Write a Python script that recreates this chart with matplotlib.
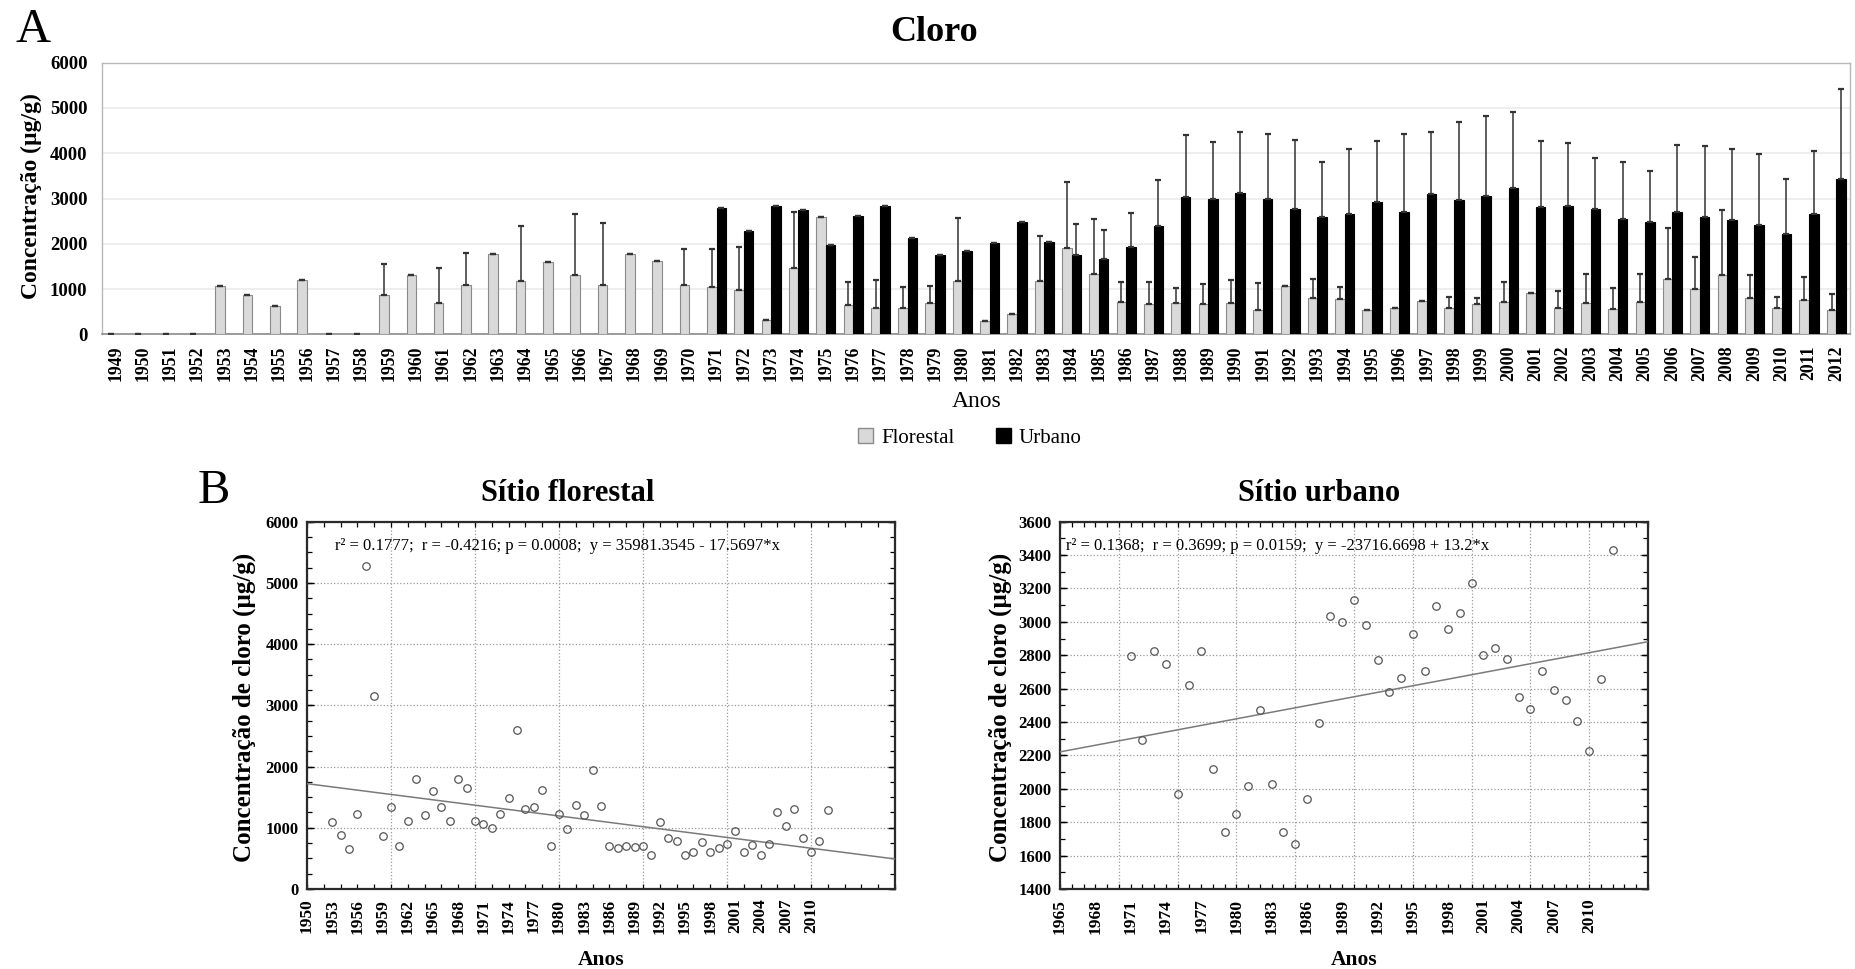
import numpy as np
import matplotlib
matplotlib.use("Agg")
import matplotlib.pyplot as plt
from matplotlib.ticker import MultipleLocator
from matplotlib.patches import Patch

plt.rcParams['font.family'] = ['Liberation Serif', 'DejaVu Serif']

# ---------------- data ----------------
anos = np.arange(1949, 2013)

# mean chlorine concentration, forest site (bars)
florestal_media = [
    0, 0, 0, 0, 1075, 869, 618, 1200, 0, 0,            # 1949-1958
    861, 1318, 699, 1097, 1774, 1185, 1590, 1318, 1090, 1782,   # 1959-1968
    1627, 1082, 1038, 979, 317, 1465, 2584, 655, 574, 589,     # 1969-1978
    692, 1185, 294, 442, 1178, 1907, 1325, 707, 663, 685,      # 1979-1988
    677, 685, 537, 1060, 802, 773, 530, 582, 736, 574,         # 1989-1998
    663, 707, 920, 589, 685, 552, 721, 1222, 1001, 1310,       # 1999-2008
    802, 589, 766, 530,                                        # 2009-2012
]
# standard deviation, forest site
florestal_dp = [
    0, 0, 0, 0, 0, 0, 0, 0, 0, 0,
    690, 0, 760, 705, 0, 1210, 0, 1340, 1375, 0,
    0, 795, 840, 955, 0, 1230, 0, 495, 625, 450,
    375, 1375, 0, 0, 1000, 1465, 1215, 455, 485, 330,
    435, 510, 605, 0, 420, 265, 0, 0, 0, 260,
    130, 455, 0, 360, 650, 465, 610, 1125, 700, 1430,
    500, 245, 495, 355,
]

# urban site, 1971-2012
urbano_anos = np.arange(1971, 2013)
urbano_media = [
    2795, 2290, 2827, 2746, 1971, 2622, 2827, 2119, 1743, 1849,   # 1971-1980
    2019, 2470, 2029, 1743, 1670, 1939, 2396, 3033, 2999, 3129,   # 1981-1990
    2983, 2770, 2582, 2664, 2925, 2706, 3097, 2957, 3055, 3235,   # 1991-2000
    2803, 2843, 2778, 2550, 2476, 2706, 2592, 2534, 2404, 2225,   # 2001-2010
    2656, 3430,                                                   # 2011-2012
]
urbano_dp = [
    0, 0, 0, 0, 0, 0, 0, 0, 0, 0,
    0, 0, 0, 690, 635, 750, 1010, 1360, 1260, 1335,
    1435, 1530, 1220, 1420, 1350, 1715, 1375, 1730, 1765, 1685,
    1460, 1375, 1125, 1260, 1125, 1475, 1560, 1570, 1590, 1215,
    1385, 1980,
]

# forest site annual series used in the regression panel, 1953-2012
florestal_reg_anos = np.arange(1953, 2013)
florestal_reg = [
    1089, 888, 648, 1225, 5271, 3158, 866, 1334, 708, 1111,       # 1953-1962
    1802, 1203, 1601, 1334, 1111, 1802, 1644, 1111, 1067, 996,    # 1963-1972
    1225, 1486, 2603, 1307, 1334, 1623, 708, 1225, 980, 1378,     # 1973-1982
    1203, 1938, 1361, 708, 670, 708, 692, 708, 555, 1089,         # 1983-1992
    828, 790, 555, 604, 762, 604, 670, 735, 942, 604,             # 1993-2002
    713, 555, 735, 1252, 1024, 1312, 828, 599, 784, 1296,         # 2003-2012
]

# regression results
reg_florestal = dict(r2="0.1777", r="-0.4216", p="0.0008", a=35981.3545, b=-17.5697)
reg_urbano = dict(r2="0.1368", r="0.3699", p="0.0159", a=-23716.6698, b=13.2)

# ---------------- figure ----------------
W, H = 1856, 969
fig = plt.figure(figsize=(W / 100, H / 100), dpi=100)


def fx(px):
    return px / W


def fy(py):
    return 1 - py / H


# ===== panel A: bar chart =====
axA = fig.add_axes([fx(102), fy(334.3), fx(1850 - 102), (334.3 - 62.7) / H])
x = np.arange(len(anos))
w = 0.35
xf = x - w / 2
xu = x[anos >= urbano_anos[0]] + w / 2

axA.bar(xf, florestal_media, width=w, color='#d9d9d9', edgecolor='#8a8a8a',
        linewidth=0.8, zorder=3)
axA.bar(xu, urbano_media, width=w, color='#000000', edgecolor='#000000',
        linewidth=0.8, zorder=3)
axA.errorbar(xf, florestal_media, yerr=[np.zeros(len(anos)), florestal_dp],
             fmt='none', ecolor='#333333', elinewidth=1.1, capsize=2.2,
             capthick=1.6, zorder=4)
axA.errorbar(xu, urbano_media, yerr=[np.zeros(len(urbano_anos)), urbano_dp],
             fmt='none', ecolor='#333333', elinewidth=1.1, capsize=2.2,
             capthick=1.6, zorder=4)

axA.set_xlim(-0.5, len(anos) - 0.5)
axA.set_ylim(0, 6000)
axA.set_yticks(np.arange(0, 6001, 1000))
axA.set_xticks(x)
axA.set_xticklabels([str(a) for a in anos], rotation=90, fontsize=12.8,
                    fontweight='bold')
for lab in axA.get_yticklabels():
    lab.set_fontweight('bold')
    lab.set_fontsize(13.5)
axA.tick_params(axis='both', length=0)
axA.tick_params(axis='y', pad=10.5)
axA.tick_params(axis='x', pad=8)
axA.grid(axis='y', color='#ebebeb', linewidth=1.2, zorder=0)
axA.set_axisbelow(True)
for s in ['top', 'right', 'left']:
    axA.spines[s].set_color('#b8b8b8')
    axA.spines[s].set_linewidth(1.0)
axA.spines['bottom'].set_color('#8c8c8c')
axA.spines['bottom'].set_linewidth(1.2)

fig.text(fx(31), fy(196), 'Concentração (µg/g)', rotation=90, ha='center',
         va='center', fontsize=17, fontweight='bold')
fig.text(fx(15), fy(42), 'A', fontsize=35, va='baseline', ha='left')
fig.text(fx(934), fy(40.7), 'Cloro', fontsize=26, fontweight='bold',
         ha='center', va='baseline')
fig.text(fx(977), fy(407), 'Anos', fontsize=17, ha='center', va='baseline')

handles = [Patch(facecolor='#d9d9d9', edgecolor='#8a8a8a', label='Florestal'),
           Patch(facecolor='#000000', edgecolor='#000000', label='Urbano')]
fig.legend(handles=handles, loc='center', bbox_to_anchor=(fx(970), fy(438)),
           ncol=2, frameon=False, fontsize=15, handlelength=0.7,
           handleheight=0.7, handletextpad=0.4, columnspacing=2.0)

# ===== panel B: regressions =====
fig.text(fx(198), fy(503), 'B', fontsize=35, va='baseline', ha='left')


def scatter_panel(left_px, xs, ys, xlim, ylim, ymaj, ymin, xgrid, xminor,
                  reg, title, title_cx, ylab_cx, text_left_px):
    ax = fig.add_axes([fx(left_px), fy(889), fx(588), (889 - 521.7) / H])
    ax.plot(xs, ys, 'o', mfc='none', mec='#555555', ms=5.4, mew=0.9,
            zorder=4)
    lx = np.array(xlim, dtype=float)
    ax.plot(lx, reg['a'] + reg['b'] * lx, color='#7a7a7a', lw=1.1, zorder=3)
    ax.set_xlim(*xlim)
    ax.set_ylim(*ylim)

    ax.set_xticks(np.arange(xlim[0], 2011, 3))
    ax.set_xticklabels([str(v) for v in np.arange(xlim[0], 2011, 3)],
                       rotation=90, fontsize=12.5, fontweight='bold')
    ax.set_yticks(np.arange(ylim[0], ylim[1] + 1, ymaj))
    for lab in ax.get_yticklabels():
        lab.set_fontweight('bold')
        lab.set_fontsize(12)
    ax.xaxis.set_minor_locator(MultipleLocator(xminor))
    ax.yaxis.set_minor_locator(MultipleLocator(ymin))
    ax.xaxis.remove_overlapping_locs = False
    ax.yaxis.remove_overlapping_locs = False
    ax.tick_params(axis='x', which='major', length=0, pad=7)
    ax.tick_params(axis='y', which='major', direction='in', length=5,
                   left=True, right=True, pad=6, width=1)
    ax.tick_params(which='minor', direction='in', length=3.5, width=0.9,
                   top=True, bottom=True, left=True, right=True)

    ax.grid(axis='y', which='major', linestyle=':', color='#9a9a9a',
            linewidth=0.9, zorder=0)
    ax.vlines(np.arange(xlim[0], xlim[1] + 0.1, xgrid), 0, 1,
              transform=ax.get_xaxis_transform(), linestyles=':',
              colors='#9a9a9a', linewidth=0.9, zorder=0)
    for s in ax.spines.values():
        s.set_color('#2a2a2a')
        s.set_linewidth(1.6)

    eq_sign = '-' if reg['b'] < 0 else '+'
    txt = (f"r\u00b2 = {reg['r2']};  r = {reg['r']}; p = {reg['p']};  "
           f"y = {reg['a']:.4f} {eq_sign} {abs(reg['b']):g}*x")
    ax.text((text_left_px - left_px) / 588, 0.933, txt,
            transform=ax.transAxes, fontsize=12, ha='left', va='center')

    fig.text(fx(title_cx), fy(500.7), title, fontsize=22, fontweight='bold',
             ha='center', va='baseline')
    fig.text(fx(ylab_cx), fy(707), 'Concentração de cloro (µg/g)',
             rotation=90, ha='center', va='center', fontsize=18,
             fontweight='bold')
    fig.text(fx(left_px + 294), fy(965), 'Anos', fontsize=15.5,
             fontweight='bold', ha='center', va='baseline')
    return ax


scatter_panel(307, florestal_reg_anos, florestal_reg, (1950, 2020), (0, 6000),
              1000, 250, 10, 2, reg_florestal, 'Sítio florestal', 568, 244, 335)
scatter_panel(1060, urbano_anos, urbano_media, (1965, 2015), (1400, 3600),
              200, 100, 5, 1, reg_urbano, 'Sítio urbano', 1319, 1000, 1066)

fig.savefig('out.png', dpi=100, facecolor='white')
